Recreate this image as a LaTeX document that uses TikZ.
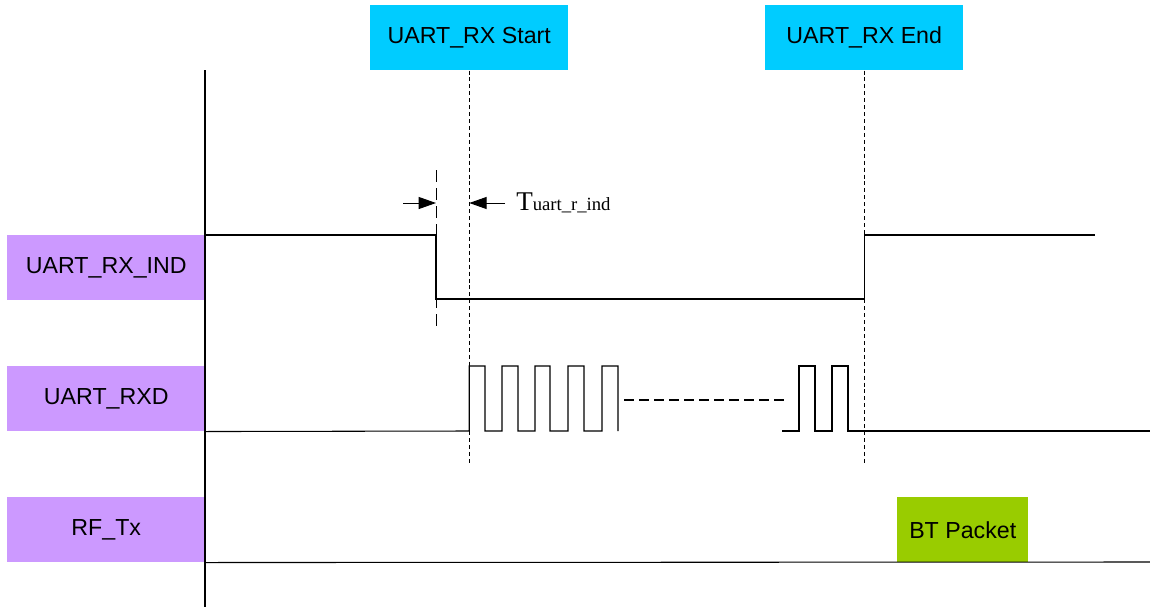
\documentclass[tikz,border=0pt]{standalone}
\usepackage{fontspec}
\setmainfont{Liberation Sans}
\newfontfamily\timesfont{Liberation Serif}
\usetikzlibrary{arrows.meta}
\definecolor{sigpurple}{HTML}{CC99FF}
\definecolor{evcyan}{HTML}{00CCFF}
\definecolor{pktgreen}{HTML}{99CC00}
\tikzstyle{signal} = [rectangle, anchor=north west, minimum width=148.5pt, minimum height=48.75pt, inner sep=0pt, text centered, fill=sigpurple, font=\fontsize{17.4}{20}\selectfont]
\tikzstyle{event} = [signal, fill=evcyan]
\tikzstyle{packet} = [signal, fill=pktgreen, minimum width=98.25pt]
\tikzstyle{wave} = [line width=0.8pt, black]
\tikzstyle{marker} = [line width=0.7pt, dash pattern=on 3pt off 2.2pt]
\tikzstyle{edge} = [line width=0.7pt, dash pattern=on 9pt off 4.5pt]
\tikzstyle{gapline} = [line width=0.8pt, dash pattern=on 7.5pt off 3.75pt]
\tikzstyle{arrow} = [line width=0.75pt, -{Triangle[length=13pt,width=9pt]}]

\begin{document}
\begin{tikzpicture}[x=0.75pt,y=-0.75pt]
\useasboundingbox (0,0) rectangle (1150,607);

%% NODES

\node (ind) [signal] at (7,235) {UART\_RX\_IND};
\node (rxd) [signal] at (7,366) {UART\_RXD};
\node (rf) [signal] at (7,497) {RF\_Tx};
\node (start) [event] at (370,5) {UART\_RX Start};
\node (stop) [event] at (765,5) {UART\_RX End};
\node (pkt) [packet] at (897,497) {BT Packet};
\node (tlbl) [anchor=base west, inner sep=0pt] at (516,210) {\timesfont\fontsize{20.3}{22}\selectfont T\fontsize{14}{16}\selectfont uart\_r\_ind};

\coordinate (axtop) at (205,70);
\coordinate (axbot) at (205,607);
\coordinate (fall) at (436,170);
\coordinate (fallend) at (436,332);
\coordinate (larr) at (403,203);
\coordinate (rarr) at (505,203);

%% MARKERS

\draw [line width=1.5pt] (axtop) -- (axbot);
\draw [marker] (start.south) -- ++(0,393);
\draw [marker] (stop.south) -- ++(0,393);
\draw [edge] (fall) -- (fallend);

%% WAVES

\draw [wave] (ind.north east) -- (436,235) -- (436,299) -- (stop.south |- 0,299) -- (stop.south |- 0,235) -- (1095,235);

\draw [wave] (rxd.south east) -- (start.south |- 0,431) -- (start.south |- 0,366) -- (485,366) -- (485,431) -- (502,431)
  -- (502,366) -- (518,366) -- (518,431) -- (535,431) -- (535,366) -- (550,366) -- (550,431)
  -- (568,431) -- (568,366) -- (584,366) -- (584,431) -- (602,431) -- (602,366) -- (618,366) -- (618,431);
\draw [gapline] (624,400) -- (788,400);
\draw [wave] (782,431) -- (799,431) -- (799,366) -- (815,366) -- (815,431) -- (832,431)
  -- (832,366) -- (848,366) -- (848,431) -- (1150,431);

\draw [wave] (rf.south east) -- (1150,562);

%% ARROWS

\draw [arrow] (larr) -- (fall |- larr);
\draw [arrow] (rarr) -- (start.south |- rarr);
\end{tikzpicture}
\end{document}
